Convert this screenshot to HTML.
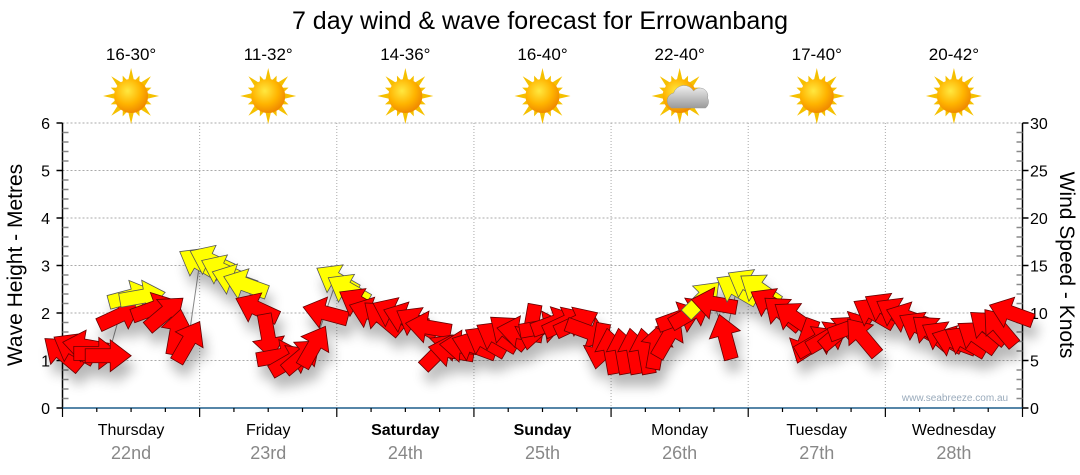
<!DOCTYPE html>
<html><head><meta charset="utf-8"><style>
body{margin:0;background:#fff;}
svg{display:block;font-family:"Liberation Sans","DejaVu Sans",sans-serif;}
</style></head><body>
<svg id="chart" width="1080" height="475" viewBox="0 0 1080 475">
<defs>
<filter id="shadow" x="-50%" y="-50%" width="200%" height="250%">
<feGaussianBlur in="SourceAlpha" stdDeviation="6"/>
<feOffset dx="4" dy="12" result="b"/>
<feComponentTransfer><feFuncA type="linear" slope="0.28"/></feComponentTransfer>
<feMerge><feMergeNode/><feMergeNode in="SourceGraphic"/></feMerge>
</filter>
<radialGradient id="sunG" cx="40%" cy="35%" r="65%"><stop offset="0" stop-color="#ffe840"/><stop offset="0.6" stop-color="#ffb400"/><stop offset="1" stop-color="#f08a00"/></radialGradient>
<linearGradient id="cloudG" x1="0" y1="0" x2="0" y2="1"><stop offset="0" stop-color="#f0f0f0"/><stop offset="1" stop-color="#9a9a9a"/></linearGradient>
</defs>
<text x="540" y="29" text-anchor="middle" font-size="25" fill="#000">7 day wind &amp; wave forecast for Errowanbang</text>
<g id="grid"></g>
<g id="axes"></g>
<g id="header"></g>
<g id="series"></g>
<text x="955" y="401" text-anchor="middle" font-size="10" fill="#9ab">www.seabreeze.com.au</text>
<text transform="translate(22,265) rotate(-90)" text-anchor="middle" font-size="21" fill="#000">Wave Height - Metres</text>
<text transform="translate(1060,265) rotate(90)" text-anchor="middle" font-size="21" fill="#000">Wind Speed - Knots</text>
</svg>
<script>
const days = ["Thursday","Friday","Saturday","Sunday","Monday","Tuesday","Wednesday"];
const dates = ["22nd","23rd","24th","25th","26th","27th","28th"];
const boldDays = [false,false,true,true,false,false,false];
const temps = ["16-30°","11-32°","14-36°","16-40°","22-40°","17-40°","20-42°"];
const icons = ["sun","sun","sun","sun","cloud","sun","sun"];
const leftTicks = [0,1,2,3,4,5,6];
const rightTicks = [0,5,10,15,20,25,30];
// wave height (m), every 2 hours
const waveHeight = [
1.15,1.25,1.3,1.15,1.1,1.95,2.35,2.35,2.1,2.0,1.6,1.4,
3.05,3.1,2.9,2.7,2.6,2.1,1.5,1.1,1.0,1.1,1.3,2.0,
2.7,2.5,2.2,2.0,1.9,2.0,1.9,1.8,1.7,1.2,1.2,1.3,
1.3,1.4,1.5,1.6,1.6,1.7,1.7,1.8,1.8,1.8,1.6,1.3,
1.2,1.2,1.2,1.2,1.3,1.5,1.9,2.0,2.3,2.2,1.5,2.5,
2.6,2.5,2.2,2.0,1.9,1.4,1.4,1.5,1.6,1.7,1.5,2.0,
2.1,2.0,1.9,1.7,1.6,1.5,1.4,1.4,1.5,1.7,1.7,2.0];
// wind direction arrow heading (degrees on screen, 0 = right, -90 = up)
const windDir = [
-140,-150,-170,0,0,-25,-15,-10,-20,-40,-80,-60,
-150,-155,-155,-160,-160,-155,80,-10,-30,-40,-60,-165,
-150,-150,-150,-160,-140,-155,-160,-150,-170,-45,-170,-175,
-160,-150,-150,-140,-170,100,-10,-20,-25,-25,20,100,
-100,-100,-100,-100,-80,-60,-20,-30,-45,-170,-105,-150,
-150,-145,-150,-140,-145,110,-30,-30,-40,-20,-130,-150,
-150,-150,-160,-150,-140,-150,-160,-150,-145,-140,-130,-160];
// wind speed (knots)
const windSpeed = [
8,8,8,7,7,11,16,16,11,11,9,9,
17,17,17,16,16,12,9,8,8,8,9,11,
16,16,12,11,11,11,11,10,9,8,8,8,
8,9,9,9,9,9,10,10,10,10,8,7,
7,7,7,7,8,9,11,12,15,12,9,16,
16,16,12,11,11,8,8,9,9,10,9,11,
11,11,10,10,9,9,8,8,8,9,9,11];

const NS="http://www.w3.org/2000/svg";
const X0=62.5, X1=1022.5, Y0=408, Y1=123;
const dayW=(X1-X0)/7;
const xT=t=>X0+t*dayW/12;
const yL=v=>Y0-(v/6)*(Y0-Y1);
const yR=v=>Y0-(v/30)*(Y0-Y1);
function mk(tag,attrs,parent){const e=document.createElementNS(NS,tag);for(const k in attrs)e.setAttribute(k,attrs[k]);parent.appendChild(e);return e;}
const grid=document.getElementById('grid'),axes=document.getElementById('axes'),header=document.getElementById('header'),series=document.getElementById('series');

leftTicks.forEach(v=>{if(v===0)return;
 const l=mk('line',{x1:X0,x2:X1,y1:yL(v),y2:yL(v),stroke:'#aaa','stroke-dasharray':'2,2'},grid);
 
 
});
for(let d=1;d<7;d++){const x=X0+d*dayW;
 const l=mk('line',{x1:x,x2:x,y1:Y1,y2:Y0,stroke:'#aaa','stroke-dasharray':'1,2'},grid);
 
 
}
mk('line',{x1:X0,x2:X0,y1:Y1,y2:Y0,stroke:'#000','stroke-width':1.5},axes);
for(let v=0;v<=6.001;v+=0.2){const y=yL(v);const major=Math.abs(v-Math.round(v))<0.01;
 mk('line',{x1:major?X0-6:X0,x2:X0+(major?0:6),y1:y,y2:y,stroke:major?'#000':'#888','stroke-width':1.5},axes);}
leftTicks.forEach(v=>{const t=mk('text',{x:50,y:yL(v)+6,'text-anchor':'end','font-size':16,fill:'#000'},axes);t.textContent=v;
 
 });
mk('line',{x1:X1,x2:X1,y1:Y1,y2:Y0,stroke:'#000','stroke-width':1.5},axes);
for(let v=0;v<=30;v++){const y=yR(v);const major=v%5===0;
 mk('line',{x1:major?X1:X1-6,x2:X1+(major?6:0),y1:y,y2:y,stroke:major?'#000':'#888','stroke-width':1.5},axes);}
rightTicks.forEach(v=>{const t=mk('text',{x:1030,y:yR(v)+6,'font-size':16,fill:'#000'},axes);t.textContent=v;
 
 });
mk('line',{x1:X0,x2:X1,y1:Y0,y2:Y0,stroke:'#1f5f8b','stroke-width':1.5},axes);
for(let q=0;q<=28;q++){const x=X0+q*dayW/4;const major=q%4===0;
 mk('line',{x1:x,x2:x,y1:Y0,y2:Y0+(major?9:4),stroke:'#000','stroke-width':1.2},axes);}
days.forEach((d,i)=>{const cx=X0+(i+0.5)*dayW;
 const t=mk('text',{x:cx,y:435,'text-anchor':'middle','font-size':16,fill:'#000','font-weight':boldDays[i]?'bold':'normal'},axes);t.textContent=d;
 
 
 const t2=mk('text',{x:cx,y:459,'text-anchor':'middle','font-size':18,fill:'#888'},axes);t2.textContent=dates[i];
 
 
 const t3=mk('text',{x:cx,y:60,'text-anchor':'middle','font-size':17,fill:'#000'},header);t3.textContent=temps[i];
 
 
 const g=mk('g',{transform:`translate(${cx},96)`},header);
 
 
 for(let r=0;r<16;r++){const a=r*Math.PI/8;const L=r%2===0?28:22;
  const px=Math.cos(a),py=Math.sin(a),qx=-py,qy=px;
  mk('polygon',{points:`${px*L},${py*L} ${px*13+qx*3.5},${py*13+qy*3.5} ${px*13-qx*3.5},${py*13-qy*3.5}`,fill:'#f5c000'},g);}
 mk('circle',{r:17,fill:'url(#sunG)'},g);
 if(icons[i]==='cloud'){
  mk('path',{d:'M-8,14 a8,8 0 0 1 2,-15 a11,11 0 0 1 20,-2 a8,8 0 0 1 14,7 a8,8 0 0 1 -2,10 z',fill:'url(#cloudG)',stroke:'#999','stroke-width':0.5,transform:'translate(0,-2)'},g);}
});

const pts=waveHeight.map((h,i)=>`${xT(i)},${yL(h)}`).join(' ');
const wl=mk('polyline',{points:pts,fill:'none',stroke:'#888','stroke-width':1},series);


const ag=mk('g',{filter:'url(#shadow)'},series);


const arrowPath='M-23,-7 L2,-7 L2,-16 L23,0 L2,16 L2,7 L-23,7 Z';
waveHeight.forEach((h,i)=>{
 const col=windSpeed[i]>=15?'#ffff00':'#ff0000';
 const p=mk('path',{d:arrowPath,fill:col,stroke:windSpeed[i]>=15?'#555':'#600','stroke-width':0.8,transform:`translate(${xT(i)},${yL(h)}) rotate(${windDir[i]})`},ag);
 
 
});
</script>
</body></html>
